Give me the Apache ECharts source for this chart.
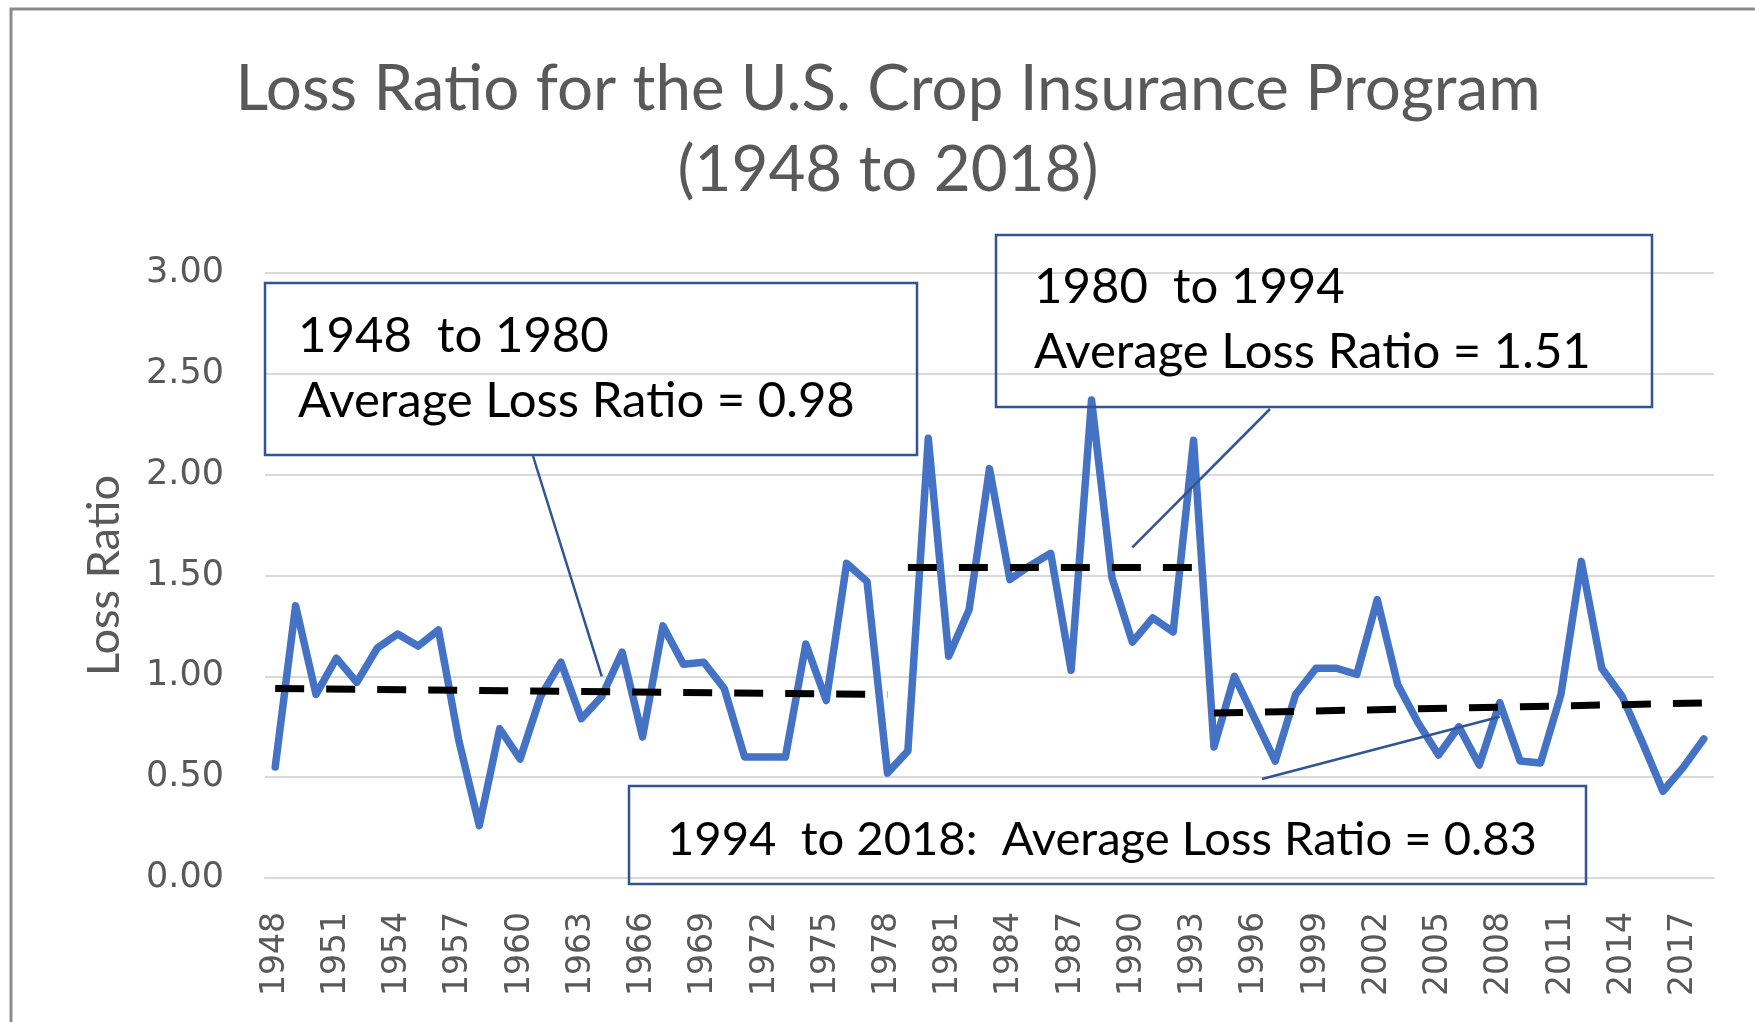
<!DOCTYPE html>
<html>
<head>
<meta charset="utf-8">
<script src="https://cdn.jsdelivr.net/npm/echarts@6/dist/echarts.min.js"></script>
<style>
html,body{margin:0;padding:0;background:#fff;}
#chart{width:1755px;height:1022px;}
</style>
</head>
<body>
<div id="chart"></div>
<script>
// ---------- data ----------
const years = ['1948','1949','1950','1951','1952','1953','1954','1955','1956','1957',
  '1958','1959','1960','1961','1962','1963','1964','1965','1966','1967',
  '1968','1969','1970','1971','1972','1973','1974','1975','1976','1977',
  '1978','1979','1980','1981','1982','1983','1984','1985','1986','1987',
  '1988','1989','1990','1991','1992','1993','1994','1995','1996','1997',
  '1998','1999','2000','2001','2002','2003','2004','2005','2006','2007',
  '2008','2009','2010','2011','2012','2013','2014','2015','2016','2017','2018'];

const lossRatio = [0.55,1.35,0.91,1.09,0.97,1.14,1.21,1.15,1.23,0.68,
  0.26,0.74,0.59,0.90,1.07,0.79,0.90,1.12,0.70,1.25,
  1.06,1.07,0.94,0.60,0.60,0.60,1.16,0.88,1.56,1.47,
  0.52,0.63,2.18,1.10,1.33,2.03,1.48,1.55,1.61,1.03,
  2.37,1.49,1.17,1.29,1.22,2.17,0.65,1.00,0.79,0.58,
  0.91,1.04,1.04,1.01,1.38,0.96,0.77,0.61,0.75,0.56,
  0.87,0.58,0.57,0.91,1.57,1.04,0.90,0.67,0.43,0.55,0.69];

const trend1948to1980 = [['1948', 0.94], ['1978', 0.91]];
const trend1980to1994 = [['1979', 1.54], ['1993', 1.54]];
const trend1994to2018 = [['1994', 0.818], ['2018', 0.868]];

const yTicks = [0, 0.5, 1, 1.5, 2, 2.5, 3];

const titleLines = ['Loss Ratio for the U.S. Crop Insurance Program', '(1948 to 2018)'];
const box1Lines = ['1948  to 1980', 'Average Loss Ratio = 0.98'];
const box2Lines = ['1980  to 1994', 'Average Loss Ratio = 1.51'];
const box3Line = '1994  to 2018:  Average Loss Ratio = 0.83';

// connector targets (data space)
const connectorTargets = [['1964', 1.0], ['1990', 1.64], ['2008', 0.80]];

// ---------- helpers ----------
const mctx = document.createElement('canvas').getContext('2d');
function fitFont(text, family, targetW) {
  mctx.font = '100px ' + family;
  return Math.round(1000 * targetW / mctx.measureText(text).width) / 10;
}
const LATO = 'Lato';
const titleSize = fitFont(titleLines[0], LATO, 1305);
const boxSize = fitFont(box1Lines[1], LATO, 557);
const box3Size = fitFont(box3Line, LATO, 871);
const axisNameSize = fitFont('Loss Ratio', LATO, 201);

const BLUE_DARK = '#2F5597';

const chart = echarts.init(document.getElementById('chart'), null, {renderer: 'canvas'});

const option = {
  backgroundColor: '#ffffff',
  animation: false,
  title: {
    text: titleLines.join('\n'),
    left: 883,
    top: 44,
    textAlign: 'center',
    textStyle: {
      fontFamily: LATO,
      fontWeight: 'normal',
      fontSize: titleSize,
      lineHeight: 81,
      color: '#595959'
    }
  },
  grid: {left: 265, right: 41, top: 273, bottom: 144, containLabel: false},
  xAxis: {
    type: 'category',
    data: years,
    boundaryGap: true,
    axisLine: {show: true, lineStyle: {color: '#D9D9D9', width: 2}},
    axisTick: {show: false},
    splitLine: {show: false},
    axisLabel: {
      interval: 2,
      rotate: 90,
      margin: 34,
      fontFamily: 'DejaVu Sans',
      fontSize: 33,
      color: '#595959'
    }
  },
  yAxis: {
    type: 'value',
    min: yTicks[0],
    max: yTicks[yTicks.length - 1],
    interval: 0.5,
    name: 'Loss Ratio',
    nameLocation: 'middle',
    nameGap: 138,
    nameRotate: 90,
    nameTextStyle: {fontFamily: LATO, fontSize: axisNameSize, color: '#595959'},
    axisLine: {show: false},
    axisTick: {show: false},
    splitLine: {lineStyle: {color: '#D9D9D9', width: 2}},
    axisLabel: {
      margin: 41,
      fontFamily: 'DejaVu Sans',
      fontSize: 35,
      color: '#595959',
      formatter: v => v.toFixed(2)
    }
  },
  series: [
    {
      name: 'Loss Ratio',
      type: 'line',
      data: lossRatio,
      symbol: 'none',
      z: 3,
      lineStyle: {color: '#4472C4', width: 7.5, join: 'round', cap: 'round'},
      markLine: {
        silent: true,
        symbol: ['none', 'none'],
        label: {show: false},
        lineStyle: {color: BLUE_DARK, width: 2.5, type: 'solid'},
        data: [
          [{x: 533, y: 456}, {coord: connectorTargets[0]}],
          [{x: 1270, y: 409}, {coord: connectorTargets[1]}],
          [{x: 1262, y: 779}, {coord: connectorTargets[2]}]
        ]
      }
    },
    {
      type: 'line', data: trend1948to1980, symbol: 'none', z: 4,
      lineStyle: {color: '#000', width: 7, type: [29, 22], cap: 'butt'}
    },
    {
      type: 'line', data: trend1980to1994, symbol: 'none', z: 4,
      lineStyle: {color: '#000', width: 7, type: [29, 22], cap: 'butt'}
    },
    {
      type: 'line', data: trend1994to2018, symbol: 'none', z: 4,
      lineStyle: {color: '#000', width: 7, type: [29, 22], cap: 'butt'}
    }
  ],
  graphic: [
    {type: 'rect', shape: {x: 11, y: 9, width: 1800, height: 1100},
     style: {fill: 'none', stroke: '#8C8C8C', lineWidth: 3}, silent: true, z: 0},
    // box 1
    {type: 'rect', shape: {x: 265, y: 283, width: 652, height: 172},
     style: {fill: 'none', stroke: BLUE_DARK, lineWidth: 2.5}, z: 10},
    {type: 'text', x: 298, y: 336, style: {text: box1Lines[0], font: boxSize + 'px Lato', fill: '#000', textVerticalAlign: 'middle'}, z: 11},
    {type: 'text', x: 298, y: 401, style: {text: box1Lines[1], font: boxSize + 'px Lato', fill: '#000', textVerticalAlign: 'middle'}, z: 11},
    // box 2
    {type: 'rect', shape: {x: 996, y: 235, width: 656, height: 172},
     style: {fill: 'none', stroke: BLUE_DARK, lineWidth: 2.5}, z: 10},
    {type: 'text', x: 1034, y: 287, style: {text: box2Lines[0], font: boxSize + 'px Lato', fill: '#000', textVerticalAlign: 'middle'}, z: 11},
    {type: 'text', x: 1034, y: 352, style: {text: box2Lines[1], font: boxSize + 'px Lato', fill: '#000', textVerticalAlign: 'middle'}, z: 11},
    // box 3
    {type: 'rect', shape: {x: 629, y: 786, width: 957, height: 98},
     style: {fill: 'none', stroke: BLUE_DARK, lineWidth: 2.5}, z: 10},
    {type: 'text', x: 667, y: 840, style: {text: box3Line, font: box3Size + 'px Lato', fill: '#000', textVerticalAlign: 'middle'}, z: 11}
  ]
};
chart.setOption(option);
</script>
</body>
</html>
